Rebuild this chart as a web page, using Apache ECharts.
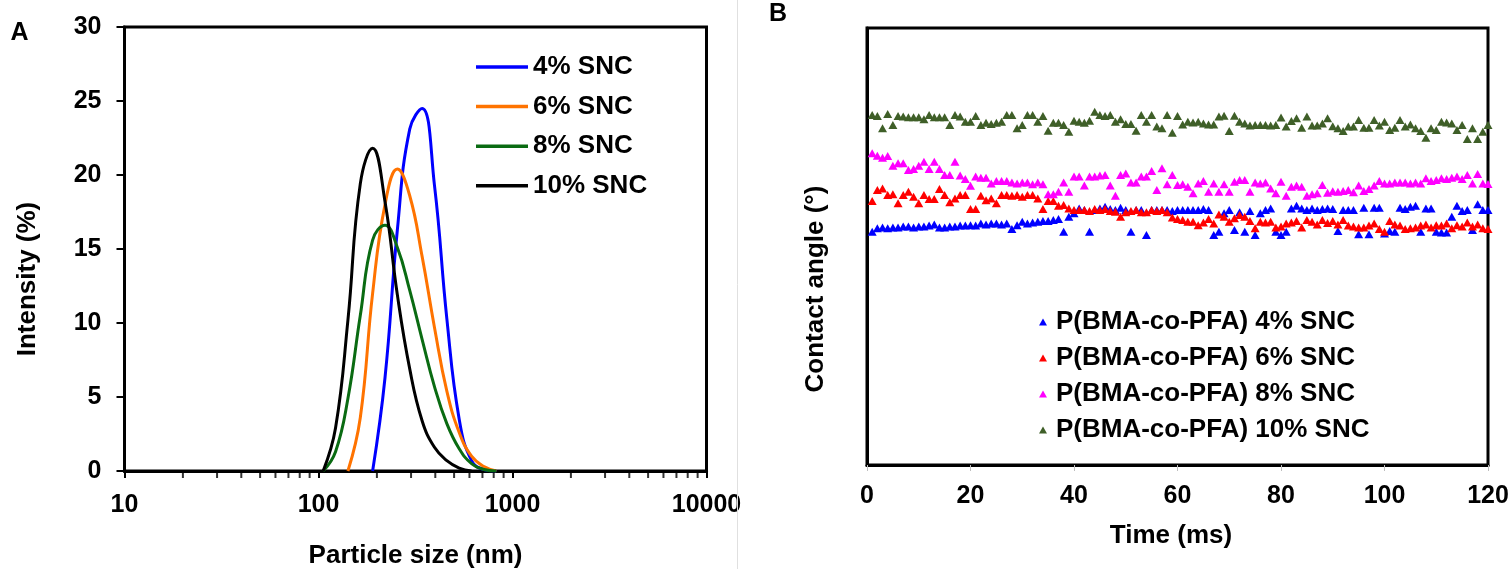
<!DOCTYPE html>
<html>
<head>
<meta charset="utf-8">
<script src="https://cdn.jsdelivr.net/npm/echarts@6/dist/echarts.min.js"></script>
<style>
html,body{margin:0;padding:0;background:#fff;}
#chart{width:1509px;height:569px;}
</style>
</head>
<body>
<div id="chart"></div>
<script>
// ---------- Panel A: particle size distribution ----------
const sizesNm = [105.7, 122.4, 141.8, 164.2, 190.1, 220.2, 255.0, 295.3, 342.0, 396.1, 458.7, 531.2, 615.1, 712.4, 825.0];
const intensity4 = [null, null, null, null, 0, 6.3, 16.3, 23.1, 24.5, 19.3, 10.3, 3.5, 0.7, 0.1, 0];
const intensity6 = [null, null, 0, 3.6, 12.0, 18.0, 20.4, 18.6, 14.5, 9.7, 5.4, 2.6, 1.0, 0.3, 0];
const intensity8 = [0, 1.3, 4.9, 10.5, 15.6, 16.6, 15.1, 12.2, 8.9, 5.7, 3.2, 1.5, 0.5, 0.1, 0];
const intensity10 = [0, 2.9, 10.2, 19.4, 21.8, 18.2, 11.9, 6.9, 3.4, 1.6, 0.7, 0.2, 0, null, null];
const sizeNames = ['4% SNC', '6% SNC', '8% SNC', '10% SNC'];
const logMinorTicks = [20, 30, 40, 50, 60, 70, 80, 90, 200, 300, 400, 500, 600, 700, 800, 900, 2000, 3000, 4000, 5000, 6000, 7000, 8000, 9000];

// ---------- Panel B: contact angle vs time ----------
const timeMs = [1,2,3,4,5,6,7,8,9,10,11,12,13,14,15,16,17,18,19,20,21,22,23,24,25,26,27,28,29,30,
31,32,33,34,35,36,37,38,39,40,41,42,43,44,45,46,47,48,49,50,51,52,53,54,55,56,57,58,59,60,
61,62,63,64,65,66,67,68,69,70,71,72,73,74,75,76,77,78,79,80,81,82,83,84,85,86,87,88,89,90,
91,92,93,94,95,96,97,98,99,100,101,102,103,104,105,106,107,108,109,110,111,112,113,114,115,116,117,118,119,120];
const angle4 = [
96.1, 97.5, 97.8, 97.5, 97.8, 97.8, 98.2, 98.2, 97.8, 98.2,
98.2, 98.6, 99.1, 97.8, 97.8, 98.2, 98.2, 98.6, 98.6, 98.8,
98.6, 99.5, 99.1, 99.5, 99.5, 99.1, 99.5, 97.2, 98.8, 100.2,
99.5, 99.9, 100.2, 100.5, 100.5, 100.9, 101.3, 96.1, 102.3, 103.7,
105.7, 105.0, 96.1, 105.0, 105.7, 106.4, 105.4, 105.0, 106.0, 105.0,
96.1, 105.0, 105.0, 94.7, 105.0, 105.0, 105.0, 105.0, 104.6, 105.0,
105.0, 105.0, 105.0, 105.0, 105.4, 105.0, 94.7, 96.1, 103.7, 105.0,
96.8, 104.1, 96.1, 104.6, 94.7, 103.7, 105.0, 105.7, 96.1, 94.7,
96.1, 105.7, 106.8, 105.7, 105.0, 105.7, 105.0, 105.4, 105.7, 105.4,
96.4, 105.0, 105.0, 105.0, 95.0, 106.0, 95.0, 106.0, 106.0, 95.4,
96.4, 96.1, 106.0, 105.4, 106.4, 106.8, 96.1, 105.7, 105.7, 96.1,
95.8, 95.8, 102.3, 106.8, 104.6, 105.0, 96.8, 107.4, 105.0, 105.0];
const angle6 = [
108.7, 113.3, 113.9, 111.2, 111.5, 107.8, 111.2, 112.6, 110.5, 107.8,
111.2, 109.6, 109.6, 113.7, 111.2, 108.2, 109.8, 111.2, 111.2, 105.4,
105.4, 110.9, 109.1, 109.8, 107.8, 111.2, 111.2, 110.9, 111.2, 110.5,
111.2, 111.2, 109.8, 105.4, 108.7, 108.7, 106.8, 107.1, 105.7, 105.0,
105.0, 105.0, 104.6, 105.4, 105.0, 105.4, 104.6, 104.3, 102.3, 104.1,
104.6, 105.0, 104.1, 104.1, 105.0, 104.6, 105.0, 104.1, 101.9, 101.3,
100.9, 100.2, 100.2, 98.8, 99.9, 101.3, 99.5, 103.2, 102.3, 100.2,
101.6, 103.0, 102.3, 100.5, 97.5, 100.2, 99.9, 100.2, 97.8, 98.2,
99.5, 99.9, 100.5, 97.8, 100.9, 100.2, 99.1, 100.9, 99.7, 100.5,
99.1, 100.9, 98.6, 98.2, 97.8, 97.8, 98.6, 99.5, 97.2, 96.1,
100.5, 99.1, 98.6, 97.2, 97.5, 97.8, 98.6, 99.1, 97.8, 98.8,
98.6, 99.5, 97.5, 98.8, 98.2, 99.9, 98.2, 99.1, 97.5, 97.2];
const angle8 = [
128.4, 127.4, 126.6, 127.3, 123.3, 124.3, 124.3, 121.5, 121.9, 123.3,
124.9, 121.9, 124.9, 121.9, 119.4, 119.4, 124.9, 119.2, 117.8, 115.0,
118.8, 118.3, 118.3, 116.0, 117.0, 117.0, 117.0, 116.4, 116.0, 116.4,
116.4, 115.6, 116.4, 115.6, 111.5, 111.5, 112.6, 116.4, 112.6, 118.8,
118.8, 115.1, 118.8, 118.8, 119.2, 119.4, 115.1, 110.9, 119.4, 120.1,
116.4, 116.4, 118.8, 118.8, 121.1, 113.3, 122.2, 115.6, 119.4, 115.3,
115.6, 114.6, 111.9, 116.0, 117.0, 112.6, 116.0, 112.6, 115.6, 112.6,
116.7, 117.4, 117.4, 112.6, 116.4, 116.0, 116.4, 113.9, 111.9, 116.7,
110.9, 114.6, 115.1, 114.6, 110.9, 111.5, 111.9, 115.3, 112.1, 112.8,
112.6, 112.9, 113.3, 112.3, 115.1, 112.9, 113.7, 115.1, 117.0, 116.0,
116.0, 116.4, 116.4, 116.4, 116.0, 116.4, 116.0, 118.1, 117.0, 117.4,
118.1, 117.8, 118.3, 118.8, 117.8, 119.4, 116.0, 119.9, 116.0, 115.7];
const angle10 = [
144.2, 143.8, 138.7, 144.6, 140.0, 143.8, 143.5, 143.2, 143.2, 143.2,
142.4, 144.2, 143.2, 143.2, 143.2, 140.0, 144.2, 143.5, 141.4, 141.4,
143.8, 140.0, 141.0, 140.5, 141.0, 141.4, 144.2, 144.2, 138.7, 140.0,
144.2, 144.2, 141.4, 143.8, 137.7, 141.0, 141.0, 140.0, 137.3, 141.8,
141.4, 141.0, 141.8, 145.5, 144.2, 143.8, 144.2, 141.4, 142.4, 140.5,
140.5, 137.7, 144.2, 141.4, 144.2, 139.4, 138.7, 144.2, 136.9, 143.8,
140.3, 141.4, 141.1, 141.4, 140.7, 140.3, 140.3, 143.5, 143.9, 137.6,
143.9, 141.4, 140.7, 139.8, 140.0, 140.0, 140.0, 139.8, 140.0, 143.1,
139.4, 141.7, 142.8, 138.9, 143.5, 139.8, 139.8, 140.7, 142.8, 139.5,
138.7, 137.6, 139.4, 139.4, 142.1, 138.9, 138.9, 142.1, 139.8, 141.4,
138.0, 138.9, 142.1, 139.4, 140.3, 138.7, 137.6, 134.8, 138.7, 138.0,
141.4, 141.1, 140.7, 138.0, 140.0, 134.3, 138.7, 134.3, 137.3, 140.0];
const angleNames = ['P(BMA-co-PFA) 4% SNC', 'P(BMA-co-PFA) 6% SNC', 'P(BMA-co-PFA) 8% SNC', 'P(BMA-co-PFA) 10% SNC'];
const timeTicks = [0, 120, 20];   // min, max, interval
const intensityTicks = [0, 30, 5]; // min, max, interval

// ---------- styles ----------
const FONT = '"Liberation Sans", Arial, Helvetica, sans-serif';
const lineColors = ['#0000ff', '#ff7300', '#0a6b12', '#000000'];
const markColors = ['#0000ff', '#ff0000', '#ff00ff', '#3f5f28'];

function pairs(xs, ys) {
  const out = [];
  for (let i = 0; i < xs.length; i++) if (ys[i] !== null) out.push([xs[i], ys[i]]);
  return out;
}

const sizeSeries = [intensity4, intensity6, intensity8, intensity10].map((arr, i) => ({
  name: sizeNames[i], type: 'line', xAxisIndex: 0, yAxisIndex: 0,
  data: pairs(sizesNm, arr), smooth: 0.45, symbol: 'none', showSymbol: false,
  lineStyle: {color: lineColors[i], width: 3}, itemStyle: {color: lineColors[i]}, z: 3
}));

const angleSeries = [angle4, angle6, angle8, angle10].map((arr, i) => ({
  name: angleNames[i], type: 'scatter', xAxisIndex: 1, yAxisIndex: 1,
  data: pairs(timeMs, arr), symbol: 'triangle', symbolSize: [9, 8],
  itemStyle: {color: markColors[i], opacity: 1}, z: 3 + i
}));

const minorTickSeries = {
  name: 'minorTicks', type: 'scatter', xAxisIndex: 0, yAxisIndex: 0,
  data: logMinorTicks.map(v => [v, 0]), symbol: 'rect', symbolSize: [2, 7], symbolOffset: [0, 3.5],
  itemStyle: {color: '#000'}, silent: true, clip: false, z: 1
};

const labelStyle = {fontFamily: FONT, fontWeight: 'bold', fontSize: 25, color: '#000'};
const titleStyle = {fontFamily: FONT, fontWeight: 'bold', fontSize: 26, color: '#000'};

const option = {
  animation: false,
  backgroundColor: '#fff',
  grid: [
    {left: 124.5, top: 27, width: 582, height: 444, show: true, borderColor: '#000', borderWidth: 3, backgroundColor: 'transparent', containLabel: false, outerBoundsMode: 'none'},
    {left: 867, top: 28, width: 621, height: 437, show: true, borderColor: '#000', borderWidth: 3, backgroundColor: 'transparent', containLabel: false, outerBoundsMode: 'none'}
  ],
  xAxis: [
    {type: 'log', logBase: 10, gridIndex: 0, min: 10, max: 10000,
     name: 'Particle size (nm)', nameLocation: 'middle', nameGap: 72, nameTextStyle: titleStyle,
     axisLine: {show: true, onZero: false, lineStyle: {color: '#000', width: 3}},
     axisTick: {show: true, inside: false, length: 7, lineStyle: {color: '#000', width: 2}},
     minorTick: {show: false}, splitLine: {show: false}, minorSplitLine: {show: false},
     axisLabel: Object.assign({margin: 22, formatter: v => String(Math.round(v))}, labelStyle)},
    {type: 'value', gridIndex: 1, min: timeTicks[0], max: timeTicks[1], interval: timeTicks[2],
     name: 'Time (ms)', nameLocation: 'middle', nameGap: 58, nameTextStyle: Object.assign({padding: [0, 13, 0, 0]}, titleStyle),
     axisLine: {show: true, onZero: false, lineStyle: {color: '#000', width: 3}},
     axisTick: {show: true, inside: false, length: 6, lineStyle: {color: '#bfbfbf', width: 1}},
     splitLine: {show: false},
     axisLabel: Object.assign({margin: 19}, labelStyle)}
  ],
  yAxis: [
    {type: 'value', gridIndex: 0, min: intensityTicks[0], max: intensityTicks[1], interval: intensityTicks[2],
     axisLine: {show: true, onZero: false, lineStyle: {color: '#000', width: 3}},
     axisTick: {show: true, inside: false, length: 8, lineStyle: {color: '#000', width: 2}},
     splitLine: {show: false},
     axisLabel: Object.assign({margin: 23}, labelStyle)},
    {type: 'value', gridIndex: 1, min: 0, max: 180,
     axisLine: {show: true, onZero: false, lineStyle: {color: '#000', width: 3}},
     axisTick: {show: false}, axisLabel: {show: false}, splitLine: {show: false}}
  ],
  legend: [
    {data: sizeNames, orient: 'vertical', left: 476, top: 54, icon: 'rect', itemWidth: 52, itemHeight: 3.5,
     itemGap: 13.6, selectedMode: false, padding: 0,
     textStyle: Object.assign({lineHeight: 26}, titleStyle)},
    {data: angleNames, orient: 'vertical', left: 1039, top: 309, icon: 'triangle', itemWidth: 8, itemHeight: 7,
     itemGap: 10, selectedMode: false, padding: 0,
     textStyle: Object.assign({lineHeight: 26, padding: [0, 0, 0, 4]}, titleStyle)}
  ],
  graphic: [
    {type: 'text', x: 19.5, y: 33, style: {text: 'A', fontFamily: FONT, fontWeight: 'bold', fontSize: 25, fill: '#000', align: 'center', verticalAlign: 'middle'}},
    {type: 'text', x: 778, y: 14, style: {text: 'B', fontFamily: FONT, fontWeight: 'bold', fontSize: 25, fill: '#000', align: 'center', verticalAlign: 'middle'}},
    {type: 'text', x: 28, y: 279, rotation: Math.PI / 2, style: {text: 'Intensity (%)', fontFamily: FONT, fontWeight: 'bold', fontSize: 26, fill: '#000', align: 'center', verticalAlign: 'middle'}},
    {type: 'text', x: 816, y: 289, rotation: Math.PI / 2, style: {text: 'Contact angle (°)', fontFamily: FONT, fontWeight: 'bold', fontSize: 26, fill: '#000', align: 'center', verticalAlign: 'middle'}},
    {type: 'line', shape: {x1: 737.5, y1: 0, x2: 737.5, y2: 569}, style: {stroke: '#e0e0e0', lineWidth: 1}, z: 100}
  ],
  series: sizeSeries.concat(angleSeries, [minorTickSeries])
};

const chart = echarts.init(document.getElementById('chart'), null, {renderer: 'canvas'});
chart.setOption(option);
</script>
</body>
</html>
